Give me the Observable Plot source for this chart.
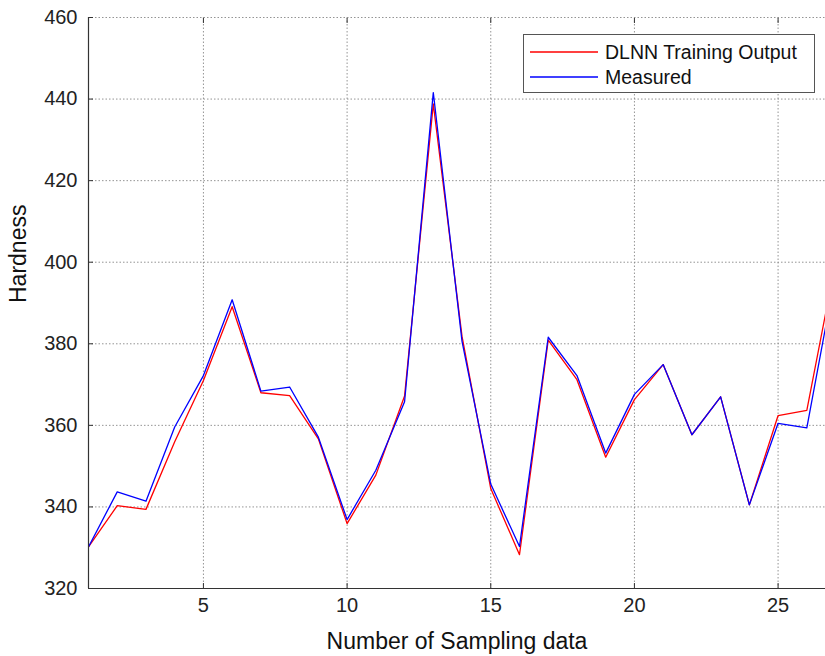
<!DOCTYPE html>
<html>
<head>
<meta charset="utf-8">
<script src="https://cdn.jsdelivr.net/npm/d3@7"></script>
<script src="https://cdn.jsdelivr.net/npm/@observablehq/plot@0.6"></script>
<style>
  html, body { margin: 0; padding: 0; background: #fff; }
  #wrap { position: relative; width: 825px; height: 656px; font-family: Arial, "Liberation Sans", Helvetica, sans-serif; }
  #legend { position: absolute; left: 523px; top: 34px; width: 290px; height: 57px; border: 1px solid #555; background: #fff; }
  #legend .row { position: absolute; left: 0; height: 24px; display: flex; align-items: center; }
  #legend svg { margin-left: 6px; margin-right: 7px; }
  #legend .lbl { font-size: 19.5px; color: #111; white-space: nowrap; }
</style>
</head>
<body>
<div id="wrap">
  <div id="chart"></div>
  <div id="legend"></div>
</div>
<script>
// ---- data ----
const sampleIndex = [1,2,3,4,5,6,7,8,9,10,11,12,13,14,15,16,17,18,19,20,21,22,23,24,25,26,27];
const dlnnOutput = [330.2,340.3,339.4,356.0,371.0,389.1,368.0,367.3,356.7,335.9,347.8,367.2,438.8,381.8,344.5,328.3,380.9,371.2,352.2,366.3,374.9,357.7,367.0,340.5,362.4,363.7,400.0];
const measured   = [330.2,343.7,341.4,359.6,372.2,390.8,368.4,369.4,357.1,336.9,349.0,365.8,441.6,380.6,345.6,330.3,381.6,372.2,353.2,367.6,374.9,357.7,367.0,340.5,360.5,359.4,397.2];
const seriesNames = ["DLNN Training Output", "Measured"];
const seriesColors = ["#ff0000", "#0000ff"];
const xTicks = [5, 10, 15, 20, 25];
const yTicks = [320, 340, 360, 380, 400, 420, 440, 460];
const xDomain = [1, 26.65];
const yDomain = [320, 460];
const xLabel = "Number of Sampling data";
const yLabel = "Hardness";

const rows = [];
sampleIndex.forEach((s, i) => {
  rows.push({x: s, y: dlnnOutput[i], series: seriesNames[0]});
  rows.push({x: s, y: measured[i], series: seriesNames[1]});
});

const axisColor = "#333";
const gridStyle = {stroke: "#888", strokeOpacity: 0.9, strokeDasharray: "1.5,2", strokeWidth: 1};

const chart = Plot.plot({
  width: 825,
  height: 656,
  marginLeft: 88,
  marginRight: 0,
  marginTop: 17,
  marginBottom: 68,
  style: {fontFamily: "Arial, 'Liberation Sans', Helvetica, sans-serif", background: "#fff", color: "#222"},
  x: {domain: xDomain, ticks: xTicks},
  y: {domain: yDomain, ticks: yTicks},
  marks: [
    Plot.gridX(xTicks, gridStyle),
    Plot.gridY(yTicks.slice(1), gridStyle),
    Plot.line(rows.filter(d => d.series === seriesNames[0]), {x: "x", y: "y", stroke: seriesColors[0], strokeWidth: 1.3, clip: true}),
    Plot.line(rows.filter(d => d.series === seriesNames[1]), {x: "x", y: "y", stroke: seriesColors[1], strokeWidth: 1.3, clip: true}),
    Plot.ruleX([xDomain[0]], {stroke: axisColor, strokeWidth: 1.2}),
    Plot.ruleY([yDomain[0]], {stroke: axisColor, strokeWidth: 1.2}),
    // inward ticks
    Plot.axisX(xTicks, {tickSize: -5, tickFormat: () => "", label: null, stroke: axisColor}),
    Plot.axisX(xTicks, {anchor: "top", tickSize: -5, tickFormat: () => "", label: null, stroke: axisColor}),
    Plot.axisY(yTicks, {tickSize: -5, tickFormat: () => "", label: null, stroke: axisColor}),
    // tick labels
    Plot.axisX(xTicks, {tickSize: 0, tickPadding: 9, fontSize: 20, label: null, fill: "#222"}),
    Plot.axisY(yTicks, {tickSize: 0, tickPadding: 11, fontSize: 20, label: null, fill: "#222"}),
    // axis titles
    Plot.text([xLabel], {frameAnchor: "bottom", dy: 53, lineAnchor: "middle", fontSize: 23, fill: "#111", text: d => d}),
    Plot.text([yLabel], {frameAnchor: "left", dx: -70, rotate: -90, lineAnchor: "middle", fontSize: 23, fill: "#111", text: d => d})
  ]
});
document.getElementById("chart").appendChild(chart);

// legend
const legend = document.getElementById("legend");
const svgNS = "http://www.w3.org/2000/svg";
seriesNames.forEach((name, i) => {
  const row = document.createElement("div");
  row.className = "row";
  row.style.top = (5 + i * 25) + "px";
  const sw = document.createElementNS(svgNS, "svg");
  sw.setAttribute("width", "68");
  sw.setAttribute("height", "6");
  const ln = document.createElementNS(svgNS, "line");
  ln.setAttribute("x1", "0"); ln.setAttribute("x2", "68");
  ln.setAttribute("y1", "3"); ln.setAttribute("y2", "3");
  ln.setAttribute("stroke", seriesColors[i]);
  ln.setAttribute("stroke-width", "1.3");
  sw.appendChild(ln);
  const lbl = document.createElement("span");
  lbl.className = "lbl";
  lbl.textContent = name;
  row.appendChild(sw);
  row.appendChild(lbl);
  legend.appendChild(row);
});
</script>
</body>
</html>
